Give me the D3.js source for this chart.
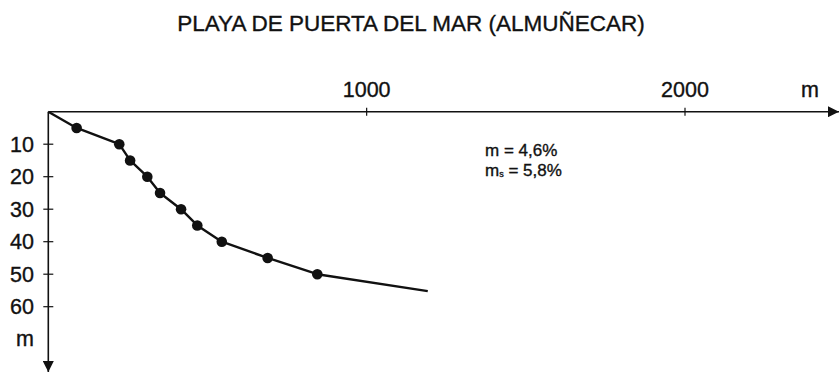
<!DOCTYPE html>
<html>
<head>
<meta charset="utf-8">
<script src="https://cdn.jsdelivr.net/npm/d3@7"></script>
<style>
  html, body { margin: 0; padding: 0; background: #fff; }
  svg text { font-family: "Liberation Sans", Arial, sans-serif; fill: #111; stroke: #111; stroke-width: 0.35px; }
</style>
</head>
<body>
<svg id="chart" width="839" height="372"></svg>
<script>
// Beach profile: distance offshore (m) vs. depth (m)
const profileDistance = [0, 89, 223, 257, 311, 351, 417, 468, 545, 689, 845, 1192];
const profileDepth    = [0, 5, 10, 15, 20, 25, 30, 35, 40, 45, 50, 55.2];
// surveyed points shown with dots (every 5 m of depth)
const markerDistance = [89, 223, 257, 311, 351, 417, 468, 545, 689, 845];
const markerDepth    = [5, 10, 15, 20, 25, 30, 35, 40, 45, 50];

const xTicks = [1000, 2000];
const yTicks = [10, 20, 30, 40, 50, 60];
const title = "PLAYA DE PUERTA DEL MAR (ALMUÑECAR)";
const slopeMean = "4,6%";
const slopeS = "5,8%";

const svg = d3.select("#chart");
const x = d3.scaleLinear().domain([0, 2000]).range([48.3, 685]);
const y = d3.scaleLinear().domain([0, 60]).range([111.7, 306.7]);
const ink = "#111";

// title
svg.append("text")
  .attr("x", 411).attr("y", 31)
  .attr("text-anchor", "middle")
  .style("font-size", "22.5px")
  .text(title);

// arrowheads
const defs = svg.append("defs");
defs.append("marker")
  .attr("id", "arrow")
  .attr("viewBox", "0 0 10 10")
  .attr("refX", 10).attr("refY", 5)
  .attr("markerWidth", 20).attr("markerHeight", 11)
  .attr("markerUnits", "userSpaceOnUse")
  .attr("orient", "auto")
  .append("path").attr("d", "M0,0 L10,5 L0,10 Z").attr("fill", ink);

// horizontal axis (distance)
svg.append("line")
  .attr("x1", x(0)).attr("y1", y(0))
  .attr("x2", 839).attr("y2", y(0))
  .attr("stroke", ink).attr("stroke-width", 1.6)
  .attr("marker-end", "url(#arrow)");

// vertical axis (depth)
svg.append("line")
  .attr("x1", x(0)).attr("y1", y(0))
  .attr("x2", x(0)).attr("y2", 372)
  .attr("stroke", ink).attr("stroke-width", 1.6)
  .attr("marker-end", "url(#arrow)");

// x ticks
const xt = svg.append("g");
xt.selectAll("line").data(xTicks).join("line")
  .attr("x1", d => x(d)).attr("x2", d => x(d))
  .attr("y1", y(0) - 4).attr("y2", y(0) + 4)
  .attr("stroke", ink).attr("stroke-width", 1.2);
xt.selectAll("text").data(xTicks).join("text")
  .attr("x", d => x(d)).attr("y", y(0) - 15)
  .attr("text-anchor", "middle")
  .style("font-size", "21.5px")
  .text(d => d);
svg.append("text")
  .attr("x", 810).attr("y", y(0) - 15)
  .attr("text-anchor", "middle")
  .style("font-size", "21.5px")
  .text("m");

// y ticks
const yt = svg.append("g");
yt.selectAll("line").data(yTicks).join("line")
  .attr("x1", x(0) - 5).attr("x2", x(0) + 5)
  .attr("y1", d => y(d)).attr("y2", d => y(d))
  .attr("stroke", ink).attr("stroke-width", 1.2);
yt.selectAll("text").data(yTicks).join("text")
  .attr("x", 34).attr("y", d => y(d))
  .attr("dy", "0.36em")
  .attr("text-anchor", "end")
  .style("font-size", "21.5px")
  .text(d => d);
svg.append("text")
  .attr("x", 34).attr("y", 346)
  .attr("text-anchor", "end")
  .style("font-size", "21.5px")
  .text("m");

// profile line
const line = d3.line().x(d => x(d[0])).y(d => y(d[1]));
svg.append("path")
  .datum(d3.zip(profileDistance, profileDepth))
  .attr("d", line)
  .attr("fill", "none")
  .attr("stroke", ink)
  .attr("stroke-width", 2.4)
  .attr("stroke-linejoin", "round");

svg.append("g").selectAll("circle")
  .data(d3.zip(markerDistance, markerDepth))
  .join("circle")
  .attr("cx", d => x(d[0])).attr("cy", d => y(d[1]))
  .attr("r", 5.3)
  .attr("fill", ink);

// slope annotation
const ann = svg.append("g").style("font-size", "17px");
ann.append("text").attr("x", 485).attr("y", 156).text("m = " + slopeMean);
const t2 = ann.append("text").attr("x", 485).attr("y", 176);
t2.append("tspan").text("m");
t2.append("tspan").style("font-size", "9px").attr("dy", 1).text("s");
t2.append("tspan").attr("dy", -1).text(" = " + slopeS);
</script>
</body>
</html>
